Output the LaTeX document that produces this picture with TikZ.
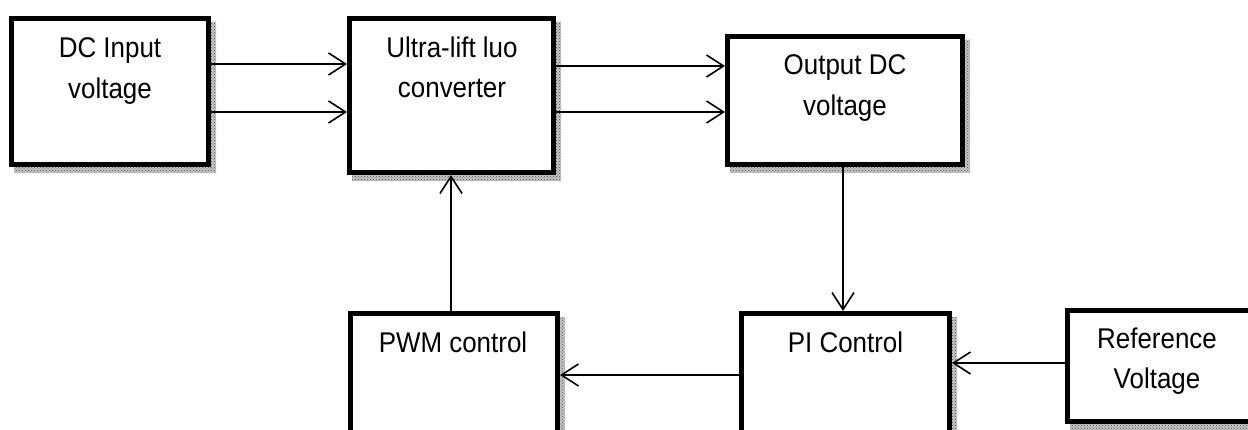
\documentclass[tikz,border=0pt]{standalone}
\usepackage{fontspec}
\setmainfont{Liberation Sans}[FakeStretch=0.91]
\usetikzlibrary{arrows.meta,patterns,backgrounds}
\begin{document}
\begin{tikzpicture}[x=1pt,y=-1pt,
  blk/.style={draw, line width=5pt, fill=white, inner sep=0pt},
  txt/.style={font=\fontsize{28.5}{40.5}\selectfont, align=center, inner sep=0pt, anchor=north},
  con/.style={line width=1.6pt, -{Straight Barb[length=17pt,width=22pt]}},
  shd/.style={preaction={fill=gray!45}, pattern=crosshatch dots, pattern color=gray!60!black}]
\useasboundingbox (0,0) rectangle (1248,430);
% boxes
\node[blk, minimum width=197pt, minimum height=146pt] (b1)  at (110,91.5) {};
\node[blk, minimum width=204pt, minimum height=154pt] (b2)  at (451.5,95.5) {};
\node[blk, minimum width=235pt, minimum height=128pt] (b3)  at (845,100.5) {};
\node[blk, minimum width=208pt, minimum height=129pt] (pi)  at (845.5,378) {};
\node[blk, minimum width=207pt, minimum height=129pt] (pwm) at (454,378) {};
\node[blk, minimum width=195pt, minimum height=111pt] (ref) at (1165,366) {};
% shadows
\begin{scope}[on background layer]
\foreach \n in {b1,b2,b3,pi,pwm,ref}
  \fill[shd] ([shift={(5,6)}]\n.north west) rectangle ([shift={(5,6)}]\n.south east);
\end{scope}
% texts
\node[txt] (t1) at (110,37.6) {DC Input\\voltage};
\node[txt] (t2) at (452,36.6) {Ultra-lift luo\\converter};
\node[txt] (t3) at (845,54.6) {Output DC\\voltage};
\node[txt] (t4) at (845.5,331.6) {PI Control};
\node[txt] (t5) at (453,331.6) {PWM control};
\node[txt] (t6) at (1157,327.6) {Reference\\Voltage};
% rows / columns for connectors
\coordinate (r1) at (0,64);
\coordinate (r2) at (0,112);
\coordinate (r3) at (0,66);
\coordinate (r4) at (0,363);
\coordinate (r5) at (0,375);
\coordinate (c1) at (843,0);
\coordinate (c2) at (451,0);
% connectors
\draw[con] (b1.east |- r1) -- (b2.west |- r1);
\draw[con] (b1.east |- r2) -- (b2.west |- r2);
\draw[con] (b2.east |- r3) -- (b3.west |- r3);
\draw[con] (b2.east |- r2) -- (b3.west |- r2);
\draw[con] (b3.south -| c1) -- (pi.north -| c1);
\draw[con] (ref.west |- r4) -- (pi.east |- r4);
\draw[con] (pi.west |- r5) -- (pwm.east |- r5);
\draw[con] (pwm.north -| c2) -- (b2.south -| c2);
\end{tikzpicture}
\end{document}
